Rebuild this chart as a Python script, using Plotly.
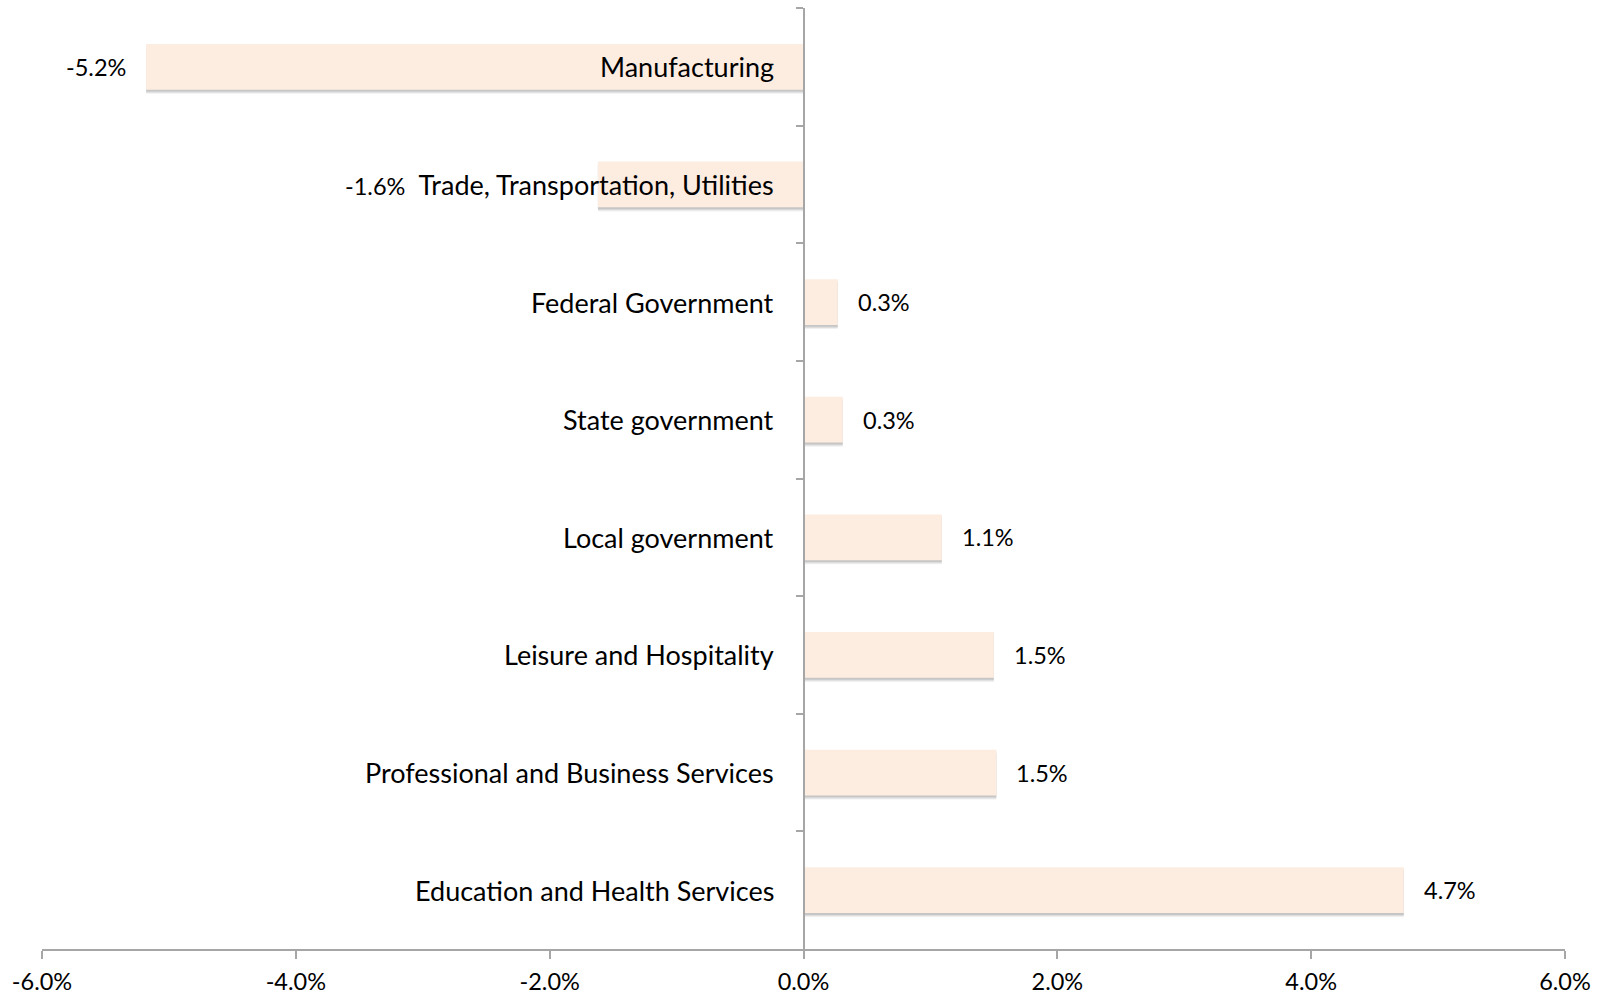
import plotly.graph_objects as go

categories = [
    "Manufacturing",
    "Trade, Transportation, Utilities",
    "Federal Government",
    "State government",
    "Local government",
    "Leisure and Hospitality",
    "Professional and Business Services",
    "Education and Health Services",
]
values = [-5.18, -1.62, 0.27, 0.31, 1.09, 1.50, 1.52, 4.73]
x_ticks = [-6, -4, -2, 0, 2, 4, 6]
x_tick_labels = ["-6.0%", "-4.0%", "-2.0%", "0.0%", "2.0%", "4.0%", "6.0%"]

W, H = 1610, 996
ML, MR, MT, MB = 42, 45, 8, 47
XMIN, XMAX = -6, 6
BAR_COLOR = "#FDECE0"
AXIS_COLOR = "#A6A6A6"
FONT = "Lato"
CAT_SIZE = 27
VAL_SIZE = 23.5
px_per_unit = (W - ML - MR) / (XMAX - XMIN)

fig = go.Figure()

# soft shadow under the bars
for k, a in ((0.035, 0.06), (0.025, 0.08), (0.015, 0.10)):
    fig.add_trace(go.Bar(
        x=values, y=categories, orientation="h",
        width=0.39, offset=-0.195 + k,
        marker=dict(color=f"rgba(0,0,0,{a})", line=dict(width=0)),
        hoverinfo="skip", showlegend=False,
    ))
fig.add_trace(go.Bar(
    x=values, y=categories, orientation="h",
    width=0.39, offset=-0.195,
    marker=dict(color=BAR_COLOR, line=dict(width=0)),
    showlegend=False,
))

annotations = []
for cat, v in zip(categories, values):
    label = f"{v:.1f}%"
    bar_px = abs(v) * px_per_unit
    cat_px = len(cat) * 0.5 * CAT_SIZE
    if v < 0 and bar_px < cat_px + 40:
        # value label placed left of the category text
        annotations.append(dict(
            x=0, y=cat, xref="x", yref="y", xanchor="right", yanchor="middle",
            xshift=-28, showarrow=False,
            text=f'<span style="font-size:{VAL_SIZE}px">{label}</span>  {cat}',
            font=dict(family=FONT, size=CAT_SIZE, color="black"),
        ))
        continue
    annotations.append(dict(
        x=0, y=cat, xref="x", yref="y", xanchor="right", yanchor="middle",
        xshift=-28, showarrow=False, text=cat,
        font=dict(family=FONT, size=CAT_SIZE, color="black"),
    ))
    annotations.append(dict(
        x=v, y=cat, xref="x", yref="y",
        xanchor="left" if v >= 0 else "right", yanchor="middle",
        xshift=18 if v >= 0 else -18, showarrow=False, text=label,
        font=dict(family=FONT, size=VAL_SIZE, color="black"),
    ))

fig.update_layout(
    width=W, height=H,
    margin=dict(l=ML, r=MR, t=MT, b=MB, pad=0, autoexpand=False),
    plot_bgcolor="white", paper_bgcolor="white",
    barmode="overlay",
    font=dict(family=FONT, size=VAL_SIZE, color="black"),
    annotations=annotations,
    xaxis=dict(
        range=[XMIN, XMAX], tickvals=x_ticks, ticktext=x_tick_labels,
        showgrid=False, zeroline=False, showline=True,
        linecolor=AXIS_COLOR, linewidth=2,
        ticks="outside", ticklen=8, tickwidth=2, tickcolor=AXIS_COLOR,
        ticklabelstandoff=3,
        tickfont=dict(family=FONT, size=VAL_SIZE, color="black"),
        automargin=False, fixedrange=True,
    ),
    yaxis=dict(
        categoryorder="array", categoryarray=categories,
        range=[len(categories) - 0.5, -0.5],
        anchor="free", position=(0 - XMIN) / (XMAX - XMIN),
        showgrid=False, zeroline=False, showline=True,
        linecolor=AXIS_COLOR, linewidth=2,
        ticks="outside", tickson="boundaries", ticklen=7, tickwidth=2,
        tickcolor=AXIS_COLOR, showticklabels=False,
        automargin=False, fixedrange=True,
    ),
)

fig.write_html(
    "out.html",
    config={"displayModeBar": False},
    post_script="document.body.style.margin='0';document.body.style.overflow='hidden';",
)
